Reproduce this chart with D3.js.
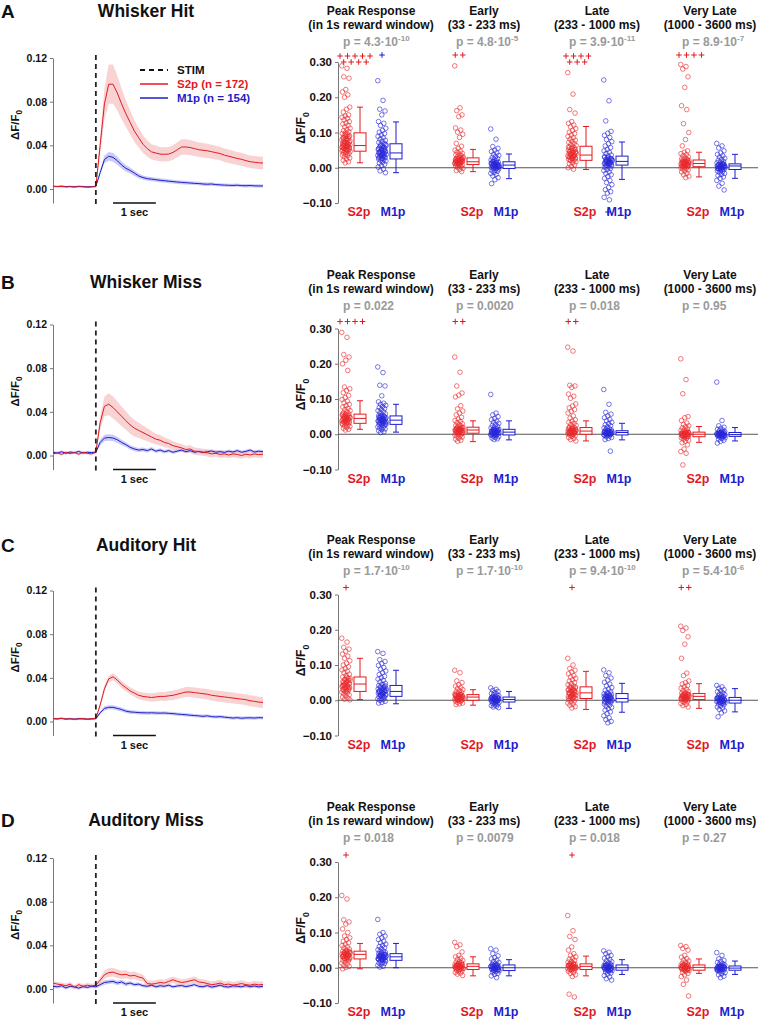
<!DOCTYPE html>
<html><head><meta charset="utf-8">
<script src="https://cdn.jsdelivr.net/npm/d3@7"></script>
<style>
body{margin:0;background:#fff}
svg{display:block}
text{font-family:"Liberation Sans",Arial,sans-serif;font-weight:bold}
</style>
</head><body>
<svg id="c" width="762" height="1023"></svg>
<script>
// ---------------- DATA ----------------
const TIME = [-1.0,-0.9,-0.8,-0.7,-0.6,-0.5,-0.4,-0.3,-0.2,-0.1,0.0,0.1,0.2,0.3,0.4,0.5,0.6,0.7,0.8,0.9,1.0,1.1,1.2,1.3,1.4,1.5,1.6,1.7,1.8,1.9,2.0,2.1,2.2,2.3,2.4,2.5,2.6,2.7,2.8,2.9,3.0,3.1,3.2,3.3,3.4,3.5,3.6,3.7,3.8,3.9];

const A_S2p_mean = [.0025,.0022,.0024,.0019,.0021,.0018,.0022,.0020,.0017,.0019,.0022,.040,.078,.096,.096,.088,.078,.069,.061,.053,.047,.041,.037,.034,.033,.032,.0318,.032,.0335,.036,.0385,.0385,.038,.037,.036,.0355,.035,.0342,.0333,.0325,.031,.030,.029,.028,.0272,.026,.025,.0245,.0240,.0238];
const A_S2p_sem  = [.0008,.0008,.0009,.0008,.0008,.0009,.0008,.0008,.0009,.0008,.0009,.008,.014,.018,.018,.016,.014,.012,.011,.010,.009,.008,.0075,.007,.0068,.0066,.0065,.0065,.0066,.0068,.007,.007,.007,.0068,.0067,.0066,.0065,.0064,.0063,.0062,.0062,.0061,.006,.006,.006,.0059,.0058,.0058,.0057,.0057];
const A_M1p_mean = [.0025,.0023,.0026,.0022,.0024,.0021,.0025,.0023,.0020,.0022,.0024,.015,.027,.030,.029,.026,.022,.019,.017,.0145,.012,.0105,.0095,.009,.0085,.008,.0076,.0072,.0068,.0064,.0061,.0058,.0055,.0052,.0050,.0046,.0044,.0046,.0041,.0038,.0036,.0034,.0033,.0035,.0031,.0030,.0032,.0029,.0028,.0028];
const A_M1p_sem  = [.0006,.0006,.0006,.0006,.0006,.0006,.0006,.0006,.0006,.0006,.0006,.002,.0035,.004,.004,.0037,.0033,.003,.0027,.0025,.0022,.002,.002,.0019,.0019,.0018,.0018,.0018,.0017,.0017,.0017,.0017,.0016,.0016,.0016,.0016,.0016,.0015,.0015,.0015,.0015,.0015,.0015,.0015,.0015,.0015,.0015,.0015,.0015,.0015];

const B_S2p_mean = [.0015,.0025,.0010,.0030,.0018,.0028,.0012,.0030,.0020,.0015,.0030,.030,.045,.047,.044,.040,.036,.032,.028,.025,.023,.021,.019,.017,.015,.014,.012,.011,.009,.008,.007,.0055,.006,.004,.0035,.003,.0025,.0015,.002,.001,.0015,.0005,.0015,.0010,.0000,.0012,.0005,.0015,.0008,.0012];
const B_S2p_sem  = [.0012,.0012,.0012,.0012,.0012,.0012,.0012,.0012,.0012,.0012,.0012,.006,.009,.010,.010,.0095,.009,.0085,.008,.0075,.007,.0065,.006,.0055,.005,.0048,.0045,.0042,.004,.0038,.0036,.0035,.0035,.0034,.0034,.0033,.0033,.0032,.0032,.0032,.0031,.0031,.0031,.003,.003,.003,.003,.003,.003,.003];
const B_M1p_mean = [.0030,.0022,.0035,.0020,.0032,.0025,.0038,.0022,.0030,.0027,.0030,.012,.016,.0165,.016,.0145,.012,.010,.0075,.006,.0050,.0055,.0045,.0060,.0040,.0050,.0035,.0045,.0030,.0040,.0050,.0035,.0045,.0030,.0038,.0028,.0035,.0042,.0030,.0036,.0028,.0040,.0032,.0045,.0030,.0038,.0050,.0032,.0040,.0035];
const B_M1p_sem  = [.0012,.0012,.0012,.0012,.0012,.0012,.0012,.0012,.0012,.0012,.0012,.0025,.003,.003,.003,.0028,.0025,.0022,.002,.002,.0018,.0018,.0017,.0017,.0016,.0016,.0016,.0016,.0016,.0015,.0015,.0015,.0015,.0015,.0015,.0015,.0015,.0015,.0015,.0015,.0015,.0015,.0015,.0015,.0015,.0015,.0015,.0015,.0015,.0015];

const C_S2p_mean = [.0028,.0025,.0030,.0022,.0026,.0020,.0024,.0027,.0022,.0025,.0028,.015,.030,.039,.041,.038,.034,.031,.028,.026,.024,.023,.0225,.022,.0225,.023,.023,.0235,.024,.025,.026,.027,.027,.0265,.026,.0255,.025,.024,.0235,.023,.0225,.022,.0215,.021,.0205,.020,.019,.0185,.0178,.0175];
const C_S2p_sem  = [.001,.001,.001,.001,.001,.001,.001,.001,.001,.001,.001,.002,.003,.003,.0032,.0032,.0032,.0032,.0033,.0034,.0035,.0036,.0037,.0038,.0039,.004,.0041,.0042,.0043,.0044,.0045,.0046,.0046,.0047,.0047,.0048,.0048,.0048,.0049,.0049,.005,.005,.005,.005,.005,.005,.005,.005,.005,.005];
const C_M1p_mean = [.0026,.0024,.0028,.0023,.0025,.0022,.0026,.0024,.0021,.0024,.0026,.008,.012,.013,.013,.012,.011,.0095,.0088,.0085,.0082,.008,.0079,.008,.0078,.0077,.0078,.0075,.0072,.0068,.0065,.0062,.0058,.0055,.0052,.0048,.0052,.0045,.0042,.0045,.0040,.0036,.0032,.0035,.0030,.0033,.0034,.0032,.0035,.0034];
const C_M1p_sem  = [.0008,.0008,.0008,.0008,.0008,.0008,.0008,.0008,.0008,.0008,.0008,.0015,.002,.002,.002,.002,.0019,.0018,.0018,.0017,.0017,.0016,.0016,.0016,.0016,.0015,.0015,.0015,.0015,.0015,.0015,.0015,.0015,.0015,.0015,.0015,.0015,.0015,.0015,.0015,.0015,.0015,.0015,.0015,.0015,.0015,.0015,.0015,.0015,.0015];

const D_S2p_mean = [.0055,.0045,.0040,.0030,.0045,.0015,.0040,.0025,.0035,.0028,.0035,.008,.013,.015,.0155,.014,.013,.0135,.012,.0125,.011,.010,.005,.0045,.005,.006,.0055,.007,.0085,.007,.0060,.0065,.0075,.0085,.0065,.0060,.0050,.0040,.0045,.0055,.0040,.0045,.0035,.0042,.0050,.0040,.0035,.0045,.0038,.0042];
const D_S2p_sem  = [.002,.002,.002,.002,.002,.002,.002,.002,.002,.002,.002,.003,.0038,.004,.004,.004,.0038,.0037,.0036,.0035,.0034,.0033,.0032,.0031,.003,.003,.003,.003,.003,.003,.003,.003,.003,.003,.003,.003,.003,.003,.003,.003,.003,.003,.003,.003,.003,.003,.003,.003,.003,.003];
const D_M1p_mean = [.0025,.0020,.0030,.0010,.0025,.0020,.0008,.0022,.0015,.0025,.0020,.004,.006,.0065,.0070,.0055,.0065,.0045,.0055,.0040,.0045,.0030,.0025,.0035,.0020,.0030,.0025,.0035,.0020,.0028,.0032,.0022,.0030,.0040,.0025,.0020,.0032,.0018,.0025,.0035,.0022,.0018,.0030,.0025,.0020,.0032,.0022,.0028,.0020,.0025];
const D_M1p_sem  = [.0015,.0015,.0015,.0015,.0015,.0015,.0015,.0015,.0015,.0015,.0015,.0018,.002,.002,.002,.002,.002,.0019,.0018,.0018,.0017,.0016,.0016,.0015,.0015,.0015,.0015,.0015,.0015,.0015,.0015,.0015,.0015,.0015,.0015,.0015,.0015,.0015,.0015,.0015,.0015,.0015,.0015,.0015,.0015,.0015,.0015,.0015,.0015,.0015];

const WINDOWS = ["Peak","Early","Late","VeryLate"];
const WIN_TITLE1 = ["Peak Response","Early","Late","Very Late"];
const WIN_TITLE2 = ["(in 1s reward window)","(33 - 233 ms)","(233 - 1000 ms)","(1000 - 3600 ms)"];
const ROW_LETTERS = ["A","B","C","D"];
const ROW_TITLES = ["Whisker Hit","Whisker Miss","Auditory Hit","Auditory Miss"];

// cell values per window (dF/F0): spread / tails
const A_peak_S2p = [0.289,0.282,0.258,0.254,0.222,0.215,0.207,0.200,0.172,0.166,0.158,0.150,0.147,0.143,0.140,0.136,0.131,0.127,0.124,0.120,0.116,0.112,0.108,0.105,0.102,0.099,0.097,0.095,0.092,0.090,0.088,0.085,0.083,0.081,0.079,0.077,0.075,0.073,0.071,0.070,0.068,0.066,0.065,0.063,0.062,0.060,0.059,0.058,0.056,0.055,0.053,0.052,0.050,0.049,0.047,0.046,0.044,0.042,0.040,0.038,0.036,0.034,0.031,0.028,0.025,0.021,0.017,0.014];
const A_peak_M1p = [0.247,0.191,0.166,0.161,0.150,0.131,0.126,0.120,0.112,0.106,0.101,0.097,0.093,0.089,0.085,0.081,0.078,0.075,0.072,0.069,0.066,0.063,0.061,0.058,0.056,0.054,0.051,0.049,0.047,0.045,0.043,0.041,0.039,0.037,0.035,0.033,0.031,0.029,0.027,0.025,0.023,0.021,0.019,0.016,0.013,0.010,0.006,0.002,-0.004,-0.009,-0.014];
const A_early_S2p = [0.289,0.170,0.162,0.150,0.145,0.113,0.107,0.101,0.095,0.086,0.069,0.061,0.055,0.050,0.047,0.044,0.041,0.039,0.037,0.035,0.033,0.031,0.029,0.027,0.026,0.024,0.023,0.021,0.020,0.019,0.017,0.016,0.015,0.013,0.012,0.011,0.009,0.008,0.006,0.005,0.003,0.001,-0.002,-0.005,-0.008,-0.011];
const A_early_M1p = [0.110,0.081,0.060,0.055,0.050,0.046,0.042,0.038,0.035,0.032,0.029,0.026,0.024,0.022,0.020,0.018,0.016,0.014,0.012,0.011,0.009,0.008,0.007,0.005,0.004,0.003,0.001,0.000,-0.002,-0.004,-0.006,-0.008,-0.010,-0.013,-0.016,-0.019,-0.023,-0.028,-0.034,-0.045];
const A_late_S2p = [0.270,0.209,0.165,0.155,0.131,0.126,0.121,0.116,0.111,0.106,0.101,0.097,0.093,0.089,0.085,0.081,0.078,0.075,0.072,0.069,0.066,0.063,0.060,0.058,0.055,0.053,0.050,0.048,0.046,0.044,0.042,0.040,0.038,0.036,0.034,0.032,0.030,0.028,0.026,0.024,0.022,0.020,0.017,0.014,0.011,0.008,0.004,0.000,-0.004];
const A_late_M1p = [0.249,0.190,0.133,0.103,0.098,0.092,0.086,0.080,0.074,0.068,0.062,0.057,0.052,0.048,0.044,0.040,0.036,0.033,0.030,0.027,0.024,0.021,0.019,0.017,0.015,0.013,0.011,0.009,0.007,0.005,0.003,0.001,-0.002,-0.005,-0.008,-0.012,-0.016,-0.020,-0.025,-0.030,-0.036,-0.042,-0.048,-0.056,-0.062,-0.068,-0.072,-0.084,-0.091];
const A_vl_S2p = [0.293,0.287,0.280,0.258,0.228,0.176,0.165,0.125,0.100,0.080,0.062,0.048,0.044,0.040,0.037,0.034,0.031,0.028,0.026,0.024,0.022,0.020,0.018,0.016,0.015,0.013,0.012,0.010,0.009,0.008,0.006,0.005,0.003,0.002,0.000,-0.002,-0.004,-0.006,-0.009,-0.012,-0.016,-0.020,-0.024,-0.028];
const A_vl_M1p = [0.069,0.062,0.056,0.048,0.042,0.038,0.034,0.030,0.027,0.024,0.021,0.018,0.016,0.014,0.012,0.010,0.008,0.006,0.005,0.003,0.002,0.000,-0.002,-0.003,-0.005,-0.007,-0.009,-0.011,-0.013,-0.016,-0.019,-0.022,-0.026,-0.030,-0.036,-0.044,-0.052,-0.063];

const B_peak_S2p = [0.289,0.275,0.226,0.219,0.210,0.200,0.181,0.134,0.129,0.124,0.118,0.110,0.104,0.099,0.094,0.089,0.085,0.081,0.077,0.073,0.070,0.067,0.064,0.061,0.058,0.056,0.054,0.052,0.050,0.048,0.046,0.044,0.042,0.040,0.038,0.036,0.034,0.032,0.030,0.028,0.026,0.024,0.022,0.020,0.017,0.014,0.012];
const B_peak_M1p = [0.191,0.175,0.139,0.137,0.109,0.092,0.088,0.085,0.082,0.079,0.076,0.073,0.070,0.067,0.064,0.061,0.058,0.055,0.053,0.051,0.049,0.047,0.045,0.043,0.041,0.039,0.037,0.035,0.033,0.031,0.029,0.027,0.025,0.023,0.021,0.019,0.017,0.015,0.013,0.010,0.007,0.005];
const B_early_S2p = [0.219,0.176,0.137,0.117,0.111,0.106,0.081,0.072,0.066,0.060,0.055,0.048,0.043,0.039,0.036,0.033,0.030,0.027,0.025,0.023,0.021,0.019,0.017,0.015,0.013,0.012,0.010,0.009,0.007,0.006,0.004,0.003,0.001,0.000,-0.002,-0.004,-0.006,-0.008,-0.011,-0.014,-0.017,-0.020];
const B_early_M1p = [0.113,0.060,0.055,0.050,0.045,0.041,0.037,0.034,0.031,0.028,0.025,0.022,0.020,0.018,0.016,0.014,0.012,0.010,0.009,0.007,0.006,0.005,0.003,0.002,0.001,0.000,-0.002,-0.003,-0.005,-0.007,-0.009,-0.011,-0.013,-0.015];
const B_late_S2p = [0.247,0.236,0.139,0.137,0.133,0.114,0.108,0.102,0.086,0.080,0.075,0.070,0.065,0.060,0.052,0.046,0.041,0.037,0.034,0.031,0.028,0.025,0.022,0.020,0.018,0.016,0.014,0.012,0.010,0.008,0.007,0.005,0.004,0.002,0.001,0.000,-0.002,-0.004,-0.006,-0.009,-0.012,-0.015,-0.019];
const B_late_M1p = [0.127,0.085,0.062,0.057,0.052,0.047,0.042,0.038,0.034,0.030,0.027,0.024,0.021,0.018,0.016,0.014,0.012,0.010,0.008,0.007,0.005,0.004,0.003,0.001,0.000,-0.002,-0.003,-0.005,-0.007,-0.009,-0.012,-0.015,-0.048];
const B_vl_S2p = [0.214,0.155,0.115,0.050,0.047,0.039,0.032,0.028,0.024,0.021,0.018,0.015,0.013,0.011,0.009,0.007,0.005,0.004,0.002,0.001,0.000,-0.001,-0.003,-0.004,-0.006,-0.008,-0.010,-0.012,-0.014,-0.017,-0.020,-0.024,-0.030,-0.042,-0.049,-0.054,-0.087];
const B_vl_M1p = [0.148,0.039,0.024,0.020,0.017,0.014,0.012,0.010,0.008,0.006,0.005,0.004,0.002,0.001,0.000,-0.001,-0.002,-0.004,-0.005,-0.007,-0.008,-0.010,-0.012,-0.014,-0.017,-0.020,-0.025];

const C_peak_S2p = [0.176,0.165,0.150,0.145,0.139,0.131,0.125,0.119,0.112,0.105,0.100,0.095,0.090,0.086,0.082,0.078,0.074,0.070,0.066,0.062,0.059,0.056,0.053,0.050,0.047,0.045,0.042,0.040,0.037,0.035,0.032,0.030,0.028,0.025,0.023,0.020,0.018,0.015,0.012,0.009,0.006,0.003,0.001];
const C_peak_M1p = [0.138,0.133,0.115,0.110,0.104,0.099,0.093,0.088,0.083,0.078,0.073,0.068,0.064,0.060,0.056,0.052,0.048,0.045,0.042,0.039,0.036,0.033,0.030,0.027,0.025,0.022,0.020,0.018,0.016,0.014,0.012,0.010,0.008,0.006,0.004,0.002,0.000,-0.003,-0.006,-0.008];
const C_early_S2p = [0.085,0.078,0.055,0.050,0.044,0.040,0.036,0.033,0.030,0.027,0.024,0.022,0.020,0.018,0.016,0.014,0.013,0.011,0.010,0.008,0.007,0.005,0.004,0.003,0.001,0.000,-0.002,-0.004,-0.006,-0.008,-0.010,-0.012];
const C_early_M1p = [0.035,0.031,0.028,0.025,0.022,0.019,0.017,0.015,0.013,0.011,0.009,0.008,0.006,0.005,0.003,0.002,0.001,0.000,-0.002,-0.003,-0.005,-0.006,-0.008,-0.009,-0.011,-0.013,-0.015,-0.017,-0.019,-0.021];
const C_late_S2p = [0.119,0.100,0.090,0.085,0.080,0.075,0.070,0.066,0.062,0.058,0.054,0.050,0.047,0.044,0.041,0.038,0.035,0.032,0.030,0.027,0.025,0.022,0.020,0.018,0.016,0.013,0.011,0.009,0.007,0.005,0.003,0.001,-0.002,-0.005,-0.008,-0.011,-0.014,-0.018,-0.022];
const C_late_M1p = [0.086,0.078,0.070,0.063,0.057,0.051,0.046,0.041,0.036,0.032,0.028,0.024,0.021,0.018,0.015,0.012,0.010,0.008,0.006,0.004,0.002,0.000,-0.002,-0.004,-0.006,-0.008,-0.011,-0.014,-0.017,-0.020,-0.024,-0.028,-0.033,-0.038,-0.044,-0.050,-0.055,-0.060,-0.064];
const C_vl_S2p = [0.210,0.205,0.198,0.180,0.159,0.119,0.077,0.070,0.055,0.050,0.046,0.042,0.038,0.034,0.031,0.028,0.025,0.022,0.020,0.018,0.016,0.014,0.012,0.010,0.009,0.007,0.006,0.004,0.003,0.001,0.000,-0.002,-0.004,-0.006,-0.009,-0.012,-0.015,-0.019];
const C_vl_M1p = [0.042,0.038,0.034,0.030,0.027,0.024,0.021,0.018,0.016,0.014,0.012,0.010,0.008,0.006,0.005,0.003,0.002,0.000,-0.002,-0.003,-0.005,-0.007,-0.009,-0.011,-0.013,-0.016,-0.019,-0.022,-0.026,-0.030,-0.036,-0.047];

const D_peak_S2p = [0.205,0.195,0.136,0.130,0.124,0.110,0.100,0.090,0.085,0.080,0.075,0.071,0.067,0.063,0.059,0.056,0.053,0.050,0.047,0.045,0.043,0.041,0.039,0.037,0.035,0.033,0.031,0.029,0.027,0.025,0.023,0.021,0.019,0.016,0.013,0.010,0.007,0.004,0.001,-0.003];
const D_peak_M1p = [0.137,0.100,0.095,0.090,0.085,0.080,0.075,0.071,0.067,0.063,0.060,0.057,0.054,0.051,0.048,0.046,0.044,0.042,0.040,0.038,0.036,0.034,0.032,0.030,0.028,0.026,0.024,0.022,0.020,0.018,0.016,0.014,0.012,0.010,0.007,0.004,0.002];
const D_early_S2p = [0.072,0.065,0.060,0.045,0.035,0.031,0.027,0.024,0.021,0.018,0.016,0.014,0.012,0.010,0.008,0.006,0.005,0.003,0.002,0.000,-0.002,-0.003,-0.005,-0.007,-0.009,-0.011,-0.013,-0.015,-0.018,-0.022];
const D_early_M1p = [0.054,0.050,0.040,0.034,0.029,0.025,0.021,0.018,0.015,0.012,0.010,0.008,0.006,0.004,0.002,0.001,0.000,-0.002,-0.004,-0.005,-0.007,-0.009,-0.011,-0.013,-0.016,-0.019,-0.023,-0.028];
const D_late_S2p = [0.148,0.105,0.089,0.080,0.059,0.050,0.040,0.035,0.031,0.027,0.024,0.021,0.018,0.016,0.013,0.011,0.009,0.007,0.005,0.003,0.002,0.000,-0.002,-0.004,-0.006,-0.008,-0.010,-0.013,-0.016,-0.020,-0.025,-0.075,-0.083];
const D_late_M1p = [0.048,0.044,0.040,0.035,0.031,0.027,0.023,0.020,0.017,0.014,0.012,0.010,0.008,0.006,0.004,0.002,0.001,0.000,-0.002,-0.004,-0.006,-0.008,-0.010,-0.012,-0.015,-0.018,-0.022,-0.026,-0.031,-0.035];
const D_vl_S2p = [0.063,0.060,0.055,0.050,0.035,0.030,0.026,0.022,0.019,0.016,0.013,0.011,0.009,0.007,0.005,0.003,0.002,0.000,-0.002,-0.004,-0.006,-0.008,-0.010,-0.013,-0.016,-0.020,-0.025,-0.035,-0.047,-0.080];
const D_vl_M1p = [0.043,0.035,0.025,0.021,0.018,0.015,0.012,0.010,0.008,0.006,0.005,0.003,0.002,0.000,-0.001,-0.003,-0.004,-0.006,-0.008,-0.010,-0.012,-0.014,-0.017,-0.020,-0.024,-0.028];

// additional cells in the dense core of each column (per window: Peak, Early, Late, Very Late)
const A_core_S2p = [[0.048,0.051,0.054,0.057,0.061,0.064,0.067,0.072,0.076,0.080,0.084,0.089,0.094,0.058,0.062,0.069],[0.010,0.012,0.014,0.016,0.018,0.020,0.022,0.024,0.026,0.028,0.015,0.019,0.023,0.011,0.017,0.021],[0.022,0.025,0.028,0.031,0.034,0.037,0.040,0.043,0.047,0.051,0.055,0.059,0.033,0.039,0.045,0.027],[0.004,0.006,0.008,0.010,0.012,0.014,0.016,0.018,0.020,0.022,0.011,0.013,0.007,0.017,0.009,0.015]];
const A_core_M1p = [[0.026,0.029,0.032,0.035,0.038,0.041,0.044,0.047,0.050,0.054,0.058,0.062,0.066,0.036,0.043,0.052],[-0.001,0.001,0.003,0.005,0.007,0.009,0.011,0.013,0.015,0.017,0.004,0.008,0.012,0.006,0.010,0.002],[0.008,0.010,0.012,0.014,0.016,0.018,0.020,0.022,0.024,0.026,0.028,0.031,0.013,0.019,0.025,0.015],[-0.004,-0.002,0.000,0.002,0.004,0.006,0.008,0.010,0.001,0.005,0.009,-0.003,0.003,0.007,-0.001,0.011]];
const B_core_S2p = [[0.031,0.033,0.035,0.037,0.039,0.041,0.043,0.045,0.047,0.049,0.051,0.053,0.055,0.057,0.040,0.046],[0.003,0.005,0.007,0.009,0.011,0.013,0.015,0.017,0.019,0.008,0.012,0.016,0.004,0.010,0.014,0.018],[0.000,0.002,0.004,0.006,0.008,0.010,0.012,0.014,0.016,0.018,0.003,0.007,0.011,0.015,0.005,0.009],[-0.007,-0.005,-0.003,-0.001,0.001,0.003,0.005,-0.004,-0.002,0.000,0.002,0.004,-0.006,0.006,-0.001,0.001]];
const B_core_M1p = [[0.028,0.030,0.032,0.034,0.036,0.038,0.040,0.042,0.044,0.046,0.048,0.050,0.052,0.035,0.041,0.047],[-0.002,0.000,0.002,0.004,0.006,0.008,0.010,0.012,0.014,0.001,0.005,0.009,0.013,0.003,0.007,0.011],[-0.002,-0.001,0.001,0.002,0.003,0.004,0.005,0.006,0.007,0.008,0.009,0.010,0.000,0.004,0.006,0.002],[-0.006,-0.005,-0.004,-0.003,-0.002,-0.001,0.000,0.001,0.002,0.003,0.004,0.005,-0.002,0.000,0.001,-0.003]];
const C_core_S2p = [[0.026,0.029,0.032,0.035,0.038,0.041,0.044,0.047,0.050,0.053,0.056,0.059,0.062,0.065,0.043,0.037],[0.000,0.002,0.004,0.006,0.008,0.010,0.012,0.014,0.016,0.005,0.009,0.013,0.003,0.007,0.011,0.015],[0.005,0.008,0.011,0.014,0.017,0.020,0.023,0.026,0.029,0.032,0.035,0.038,0.015,0.021,0.027,0.010],[0.002,0.004,0.006,0.008,0.010,0.012,0.014,0.016,0.018,0.005,0.009,0.013,0.017,0.007,0.011,0.003]];
const C_core_M1p = [[0.011,0.014,0.017,0.020,0.023,0.026,0.029,0.032,0.035,0.038,0.041,0.019,0.025,0.031,0.015,0.028],[-0.005,-0.004,-0.002,-0.001,0.001,0.002,0.004,0.005,0.007,0.008,0.000,0.003,0.006,-0.003,0.009,0.001],[-0.005,-0.003,-0.001,0.001,0.003,0.005,0.007,0.009,0.011,0.013,0.015,0.017,0.019,0.004,0.008,0.012],[-0.008,-0.006,-0.004,-0.002,0.000,0.002,0.004,0.006,0.008,-0.005,-0.001,0.003,0.007,-0.003,0.001,0.005]];
const D_core_S2p = [[0.025,0.027,0.029,0.031,0.033,0.035,0.037,0.039,0.041,0.043,0.045,0.047,0.032,0.036,0.040,0.044],[-0.005,-0.003,-0.001,0.001,0.003,0.005,0.007,0.009,0.011,0.000,0.004,0.008,-0.002,0.002,0.006,0.010],[-0.005,-0.003,-0.001,0.001,0.003,0.005,0.007,0.009,0.011,0.000,0.004,0.008,-0.002,0.002,0.006,0.010],[-0.007,-0.005,-0.003,-0.001,0.001,0.003,0.005,0.007,-0.004,0.000,0.004,0.008,-0.002,0.002,0.006,-0.006]];
const D_core_M1p = [[0.021,0.023,0.025,0.027,0.029,0.031,0.033,0.035,0.037,0.039,0.026,0.030,0.034,0.038,0.024,0.032],[-0.008,-0.006,-0.004,-0.002,0.000,0.002,0.004,0.006,0.008,-0.005,-0.001,0.003,0.007,-0.003,0.001,0.005],[-0.007,-0.005,-0.003,-0.001,0.001,0.003,0.005,0.007,-0.004,0.000,0.004,0.008,-0.002,0.002,0.006,-0.006],[-0.007,-0.005,-0.003,-0.001,0.001,0.003,0.005,-0.006,-0.004,-0.002,0.000,0.002,0.004,-0.003,0.001,0.003]];

// box stats per window: [whisker low, q1, median, q3, whisker high]
const A_box_S2p = [[0.014,0.047,0.063,0.099,0.172],[-0.011,0.009,0.017,0.028,0.052],[-0.005,0.021,0.036,0.061,0.117],[-0.026,0.003,0.012,0.022,0.044]];
const A_box_M1p = [[-0.014,0.025,0.042,0.068,0.130],[-0.031,-0.002,0.0075,0.017,0.039],[-0.033,0.0075,0.018,0.033,0.073],[-0.030,-0.005,0.005,0.011,0.038]];
const B_box_S2p = [[0.014,0.031,0.045,0.057,0.095],[-0.021,0.003,0.012,0.020,0.038],[-0.019,0.000,0.009,0.019,0.038],[-0.023,-0.007,0.000,0.006,0.022]];
const B_box_M1p = [[0.006,0.028,0.040,0.052,0.085],[-0.016,-0.002,0.006,0.014,0.038],[-0.016,-0.002,0.005,0.010,0.031],[-0.019,-0.006,-0.001,0.005,0.019]];
const C_box_S2p = [[0.002,0.025,0.046,0.066,0.119],[-0.014,0.000,0.009,0.016,0.030],[-0.026,0.005,0.021,0.038,0.082],[-0.023,0.002,0.011,0.019,0.047]];
const C_box_M1p = [[-0.010,0.011,0.025,0.042,0.085],[-0.023,-0.005,0.002,0.009,0.025],[-0.034,-0.005,0.005,0.019,0.048],[-0.033,-0.008,0.000,0.008,0.033]];
const D_box_S2p = [[-0.003,0.025,0.038,0.047,0.069],[-0.023,-0.005,0.004,0.011,0.031],[-0.023,-0.005,0.004,0.011,0.033],[-0.016,-0.007,0.001,0.008,0.025]];
const D_box_M1p = [[0.000,0.021,0.031,0.040,0.069],[-0.023,-0.008,0.000,0.008,0.023],[-0.019,-0.007,0.000,0.008,0.023],[-0.019,-0.007,-0.001,0.005,0.019]];

// counts of cells above 0.30 / below -0.10 (drawn as "+")
const A_over_S2p = [9,2,7,4], A_over_M1p = [1,0,0,0], A_under_M1p = [0,0,1,0];
const B_over_S2p = [4,2,2,0], B_over_M1p = [0,0,0,0], B_under_M1p = [0,0,0,0];
const C_over_S2p = [1,0,1,2], C_over_M1p = [0,0,0,0], C_under_M1p = [0,0,0,0];
const D_over_S2p = [1,0,1,0], D_over_M1p = [0,0,0,0], D_under_M1p = [0,0,0,0];

const A_p = ["4.3·10^-10","4.8·10^-5","3.9·10^-11","8.9·10^-7"];
const B_p = ["0.022","0.0020","0.018","0.95"];
const C_p = ["1.7·10^-10","1.7·10^-10","9.4·10^-10","5.4·10^-6"];
const D_p = ["0.018","0.0079","0.018","0.27"];

const LEGEND = ["STIM","S2p (n = 172)","M1p (n = 154)"];
const TRACE_TICKS = [0,0.04,0.08,0.12];
const BOX_TICKS = [-0.1,0,0.1,0.2,0.3];

// ---------------- LAYOUT ----------------
const RED = "#e3191f", BLUE = "#1d1dcc";
const DOT_RED = "#e8282c", DOT_BLUE = "#2626d8";
const rowOff = [0, 266.5, 532.5, 800];
const leftTitleY = [17, 288, 551, 826];
const rightTitleY = [15, 279, 544, 811];

const rows = [
  {mS:A_S2p_mean, sS:A_S2p_sem, mM:A_M1p_mean, sM:A_M1p_sem,
   dS:[A_peak_S2p,A_early_S2p,A_late_S2p,A_vl_S2p], dM:[A_peak_M1p,A_early_M1p,A_late_M1p,A_vl_M1p],
   cS:A_core_S2p, cM:A_core_M1p,
   bS:A_box_S2p, bM:A_box_M1p, oS:A_over_S2p, oM:A_over_M1p, uM:A_under_M1p, p:A_p},
  {mS:B_S2p_mean, sS:B_S2p_sem, mM:B_M1p_mean, sM:B_M1p_sem,
   dS:[B_peak_S2p,B_early_S2p,B_late_S2p,B_vl_S2p], dM:[B_peak_M1p,B_early_M1p,B_late_M1p,B_vl_M1p],
   cS:B_core_S2p, cM:B_core_M1p,
   bS:B_box_S2p, bM:B_box_M1p, oS:B_over_S2p, oM:B_over_M1p, uM:B_under_M1p, p:B_p},
  {mS:C_S2p_mean, sS:C_S2p_sem, mM:C_M1p_mean, sM:C_M1p_sem,
   dS:[C_peak_S2p,C_early_S2p,C_late_S2p,C_vl_S2p], dM:[C_peak_M1p,C_early_M1p,C_late_M1p,C_vl_M1p],
   cS:C_core_S2p, cM:C_core_M1p,
   bS:C_box_S2p, bM:C_box_M1p, oS:C_over_S2p, oM:C_over_M1p, uM:C_under_M1p, p:C_p},
  {mS:D_S2p_mean, sS:D_S2p_sem, mM:D_M1p_mean, sM:D_M1p_sem,
   dS:[D_peak_S2p,D_early_S2p,D_late_S2p,D_vl_S2p], dM:[D_peak_M1p,D_early_M1p,D_late_M1p,D_vl_M1p],
   cS:D_core_S2p, cM:D_core_M1p,
   bS:D_box_S2p, bM:D_box_M1p, oS:D_over_S2p, oM:D_over_M1p, uM:D_under_M1p, p:D_p}
];

const svg = d3.select("#c");
const xT = d3.scaleLinear().domain([-1, 3.9]).range([53, 263]);
const yT = d3.scaleLinear().domain([-0.0128, 0.12]).range([203, 58]);
const yB = d3.scaleLinear().domain([-0.1, 0.3]).range([203, 62]);
const xW = d3.scalePoint().domain(WINDOWS).range([371, 710]);
const OFF = {S2pDots:-25, S2pBox:-11, M1pDots:11, M1pBox:25};
const jit = i => (((i * 0.6180339887) % 1) - 0.5) * 8.5;

function dfLabel(g, x, y, size) {
  const t = g.append("text").attr("transform", `translate(${x},${y}) rotate(-90)`)
    .attr("text-anchor", "middle").attr("font-size", size).attr("fill", "#111");
  t.append("tspan").text("ΔF/F");
  t.append("tspan").attr("font-size", size * 0.72).attr("dy", size * 0.3).text("0");
}
function styleAxis(ax, fs) {
  ax.select(".domain").attr("stroke", "#777");
  ax.selectAll(".tick line").attr("stroke", "#777");
  ax.selectAll(".tick text").attr("font-size", fs).attr("fill", "#111")
    .attr("font-family", '"Liberation Sans",Arial,sans-serif').attr("font-weight", "bold");
}

rows.forEach((R, r) => {
  const g = svg.append("g").attr("transform", `translate(0,${rowOff[r]})`);

  // Titles
  svg.append("text").attr("x", 1).attr("y", leftTitleY[r] + 1).attr("font-size", 19).attr("fill", "#111").text(ROW_LETTERS[r]);
  svg.append("text").attr("x", 146).attr("y", leftTitleY[r]).attr("text-anchor", "middle").attr("font-size", 17.5).attr("fill", "#111").text(ROW_TITLES[r]);

  // ---- trace panel ----
  const ax = g.append("g").attr("transform", "translate(53,0)")
    .call(d3.axisLeft(yT).tickValues(TRACE_TICKS).tickFormat(d3.format(".2f")).tickSize(3).tickSizeOuter(0));
  styleAxis(ax, 10.5);
  dfLabel(g, 19, 125, 11.5);

  const idx = d3.range(TIME.length);
  const area = (m, s) => d3.area().x(i => xT(TIME[i])).y0(i => yT(m[i] - s[i])).y1(i => yT(m[i] + s[i]));
  const line = m => d3.line().x(i => xT(TIME[i])).y(i => yT(m[i]));
  g.append("path").attr("d", area(R.mM, R.sM)(idx)).attr("fill", "#8c8cf0").attr("fill-opacity", 0.45);
  g.append("path").attr("d", area(R.mS, R.sS)(idx)).attr("fill", "#f4a8a8").attr("fill-opacity", 0.5);
  g.append("path").attr("d", line(R.mM)(idx)).attr("fill", "none").attr("stroke", BLUE).attr("stroke-width", 1);
  g.append("path").attr("d", line(R.mS)(idx)).attr("fill", "none").attr("stroke", RED).attr("stroke-width", 1);

  // stim line
  g.append("line").attr("x1", xT(0)).attr("x2", xT(0)).attr("y1", 55).attr("y2", 206)
    .attr("stroke", "#222").attr("stroke-width", 1.8).attr("stroke-dasharray", "5,4");
  // scale bar 1 sec
  g.append("line").attr("x1", xT(0.4)).attr("x2", xT(1.4)).attr("y1", 203).attr("y2", 203).attr("stroke", "#111").attr("stroke-width", 1.5);
  g.append("text").attr("x", (xT(0.4) + xT(1.4)) / 2).attr("y", 216).attr("text-anchor", "middle").attr("font-size", 11).attr("fill", "#111").text("1 sec");

  if (r === 0) {
    const lg = g.append("g");
    const items = [{c:"#111", d:"5,4", y:70}, {c:RED, d:null, y:84}, {c:BLUE, d:null, y:98}];
    items.forEach((it, k) => {
      lg.append("line").attr("x1", 140).attr("x2", 168).attr("y1", it.y).attr("y2", it.y)
        .attr("stroke", it.c).attr("stroke-width", k === 0 ? 1.8 : 1.5).attr("stroke-dasharray", it.d);
      lg.append("text").attr("x", 177).attr("y", it.y + 4).attr("font-size", 11.5).attr("fill", it.c).text(LEGEND[k]);
    });
  }

  // ---- box/scatter panel ----
  const bx = g.append("g").attr("transform", "translate(338,0)")
    .call(d3.axisLeft(yB).tickValues(BOX_TICKS).tickFormat(d3.format(".2f")).tickSize(3).tickSizeOuter(0));
  styleAxis(bx, 11.5);
  g.append("line").attr("x1", 338).attr("x2", 758).attr("y1", yB(0)).attr("y2", yB(0)).attr("stroke", "#555").attr("stroke-width", 1);
  dfLabel(g, 305, 128, 12);

  WINDOWS.forEach((w, k) => {
    const cx = xW(w);
    const ty = rightTitleY[r] - rowOff[r];
    g.append("text").attr("x", cx).attr("y", ty).attr("text-anchor", "middle").attr("font-size", 12).attr("fill", "#111").text(WIN_TITLE1[k]);
    g.append("text").attr("x", cx).attr("y", ty + 14).attr("text-anchor", "middle").attr("font-size", 12).attr("fill", "#111").text(WIN_TITLE2[k]);
    const parts = R.p[k].split("^");
    const pt = g.append("text").attr("x", cx - 28).attr("y", ty + 31).attr("font-size", 12).attr("fill", "#9a9a9a");
    pt.append("tspan").text("p = " + parts[0]);
    if (parts[1]) pt.append("tspan").attr("font-size", 8).attr("dy", -5).text(parts[1]);

    [["S2p", R.dS[k].concat(R.cS[k]), R.bS[k], R.oS[k], 0, DOT_RED, RED],
     ["M1p", R.dM[k].concat(R.cM[k]), R.bM[k], R.oM[k], R.uM[k], DOT_BLUE, BLUE]].forEach(([grp, vals, bs, over, under, dc, lc]) => {
      const dx = cx + OFF[grp + "Dots"];
      g.append("g").selectAll("circle").data(vals).join("circle")
        .attr("cx", (d, i) => dx + jit(i)).attr("cy", d => yB(d)).attr("r", 2.3)
        .attr("fill", "none").attr("stroke", dc).attr("stroke-opacity", 0.62).attr("stroke-width", 1);
      // off-scale "+"
      const plus = (px, py) => g.append("path").attr("d", `M${px - 2.8},${py}H${px + 2.8}M${px},${py - 2.8}V${py + 2.8}`)
        .attr("stroke", lc).attr("stroke-width", 1);
      if (over > 0) {
        const rowsN = over > 5 ? [Math.ceil(over / 2), Math.floor(over / 2)] : [over];
        rowsN.forEach((n, ri) => {
          const start = dx - Math.min(6, (n - 1) * 7.5 / 2) + ri * 3.7;
          const py = rowsN.length > 1 ? yB(0.3) - 6 + ri * 6 : yB(0.3) - 7;
          for (let j = 0; j < n; j++) plus(start + j * 7.5, py);
        });
      }
      for (let j = 0; j < under; j++) plus(dx + j * 7.5, yB(-0.1) + 9);
      // box
      const bxc = cx + OFF[grp + "Box"], hw = 6, cw = 3;
      const [lo, q1, med, q3, hi] = bs;
      const bg = g.append("g").attr("stroke", lc).attr("stroke-width", 1).attr("fill", "none");
      bg.append("line").attr("x1", bxc).attr("x2", bxc).attr("y1", yB(hi)).attr("y2", yB(q3));
      bg.append("line").attr("x1", bxc).attr("x2", bxc).attr("y1", yB(q1)).attr("y2", yB(lo));
      bg.append("line").attr("x1", bxc - cw).attr("x2", bxc + cw).attr("y1", yB(hi)).attr("y2", yB(hi));
      bg.append("line").attr("x1", bxc - cw).attr("x2", bxc + cw).attr("y1", yB(lo)).attr("y2", yB(lo));
      bg.append("rect").attr("x", bxc - hw).attr("y", yB(q3)).attr("width", hw * 2).attr("height", yB(q1) - yB(q3)).attr("fill", "#fff");
      bg.append("line").attr("x1", bxc - hw).attr("x2", bxc + hw).attr("y1", yB(med)).attr("y2", yB(med));
      // group label
      g.append("text").attr("x", bxc - (grp === "S2p" ? 1 : 3)).attr("y", 216).attr("text-anchor", "middle")
        .attr("font-size", 12.5).attr("fill", lc).text(grp);
    });
  });
});
</script>
</body></html>
